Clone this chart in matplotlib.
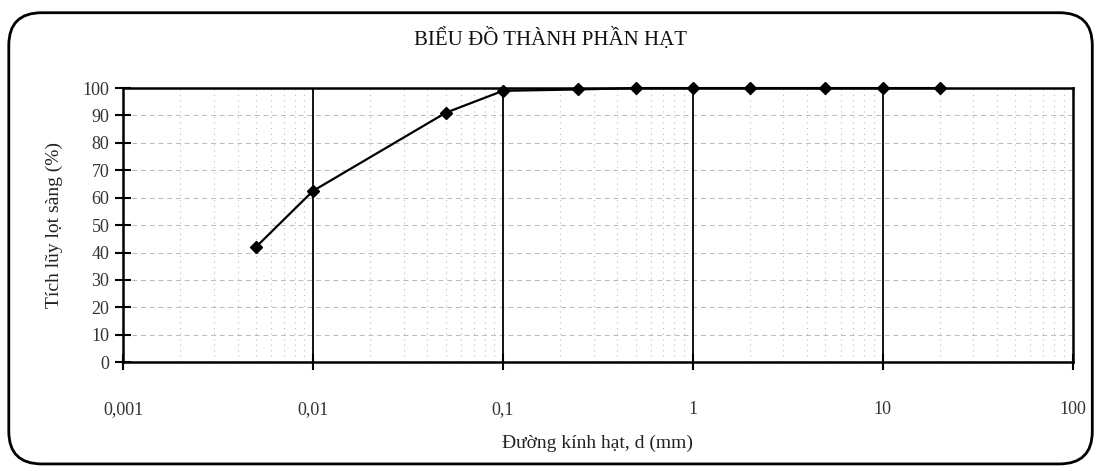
import matplotlib
matplotlib.use("Agg")
import matplotlib.pyplot as plt
from matplotlib.patches import FancyBboxPatch
from matplotlib.ticker import FixedLocator, LogLocator, NullFormatter

plt.rcParams['font.family'] = ['Liberation Serif', 'DejaVu Serif']

# Du lieu thanh phan hat
duong_kinh = [0.005, 0.01, 0.05, 0.1, 0.25, 0.5, 1, 2, 5, 10, 20]
tich_luy = [42, 62.5, 91, 99, 99.5, 100, 100, 100, 100, 100, 100]

x_ticks = [0.001, 0.01, 0.1, 1, 10, 100]
x_tick_labels = ['0,001', '0,01', '0,1', '1', '10', '100']
y_ticks = list(range(0, 101, 10))

fig = plt.figure(figsize=(11, 4.71), dpi=100)
ax = fig.add_axes([0.112, 0.231, 0.863, 0.582])

# khung bo tron quanh hinh
frame = FancyBboxPatch((0.008, 0.015), 0.985, 0.958,
                       boxstyle="round,pad=0,rounding_size=0.03",
                       transform=fig.transFigure, fill=False,
                       edgecolor='black', linewidth=2, mutation_aspect=2.3)
fig.patches.append(frame)

ax.set_xscale('log')
ax.set_xlim(0.001, 100)
ax.set_ylim(0, 100)

# luoi
ax.xaxis.set_minor_locator(LogLocator(base=10, subs=range(2, 10)))
ax.xaxis.set_minor_formatter(NullFormatter())
ax.grid(which='minor', axis='x', color='#bbbbbb', linestyle=(0, (1, 4)), linewidth=0.8)
for yv in y_ticks[1:-1]:
    ax.axhline(yv, color='#b4b8c8', linestyle=(0, (5, 4)), linewidth=0.7, zorder=1)
for xv in x_ticks[1:-1]:
    ax.axvline(xv, color='black', linewidth=1.3, zorder=2)

ax.plot(duong_kinh, tich_luy, color='black', linewidth=1.6, marker='D',
        markersize=6.5, zorder=5, clip_on=False)

ax.xaxis.set_major_locator(FixedLocator(x_ticks))
ax.set_xticklabels(x_tick_labels)
ax.set_yticks(y_ticks)

for s in ax.spines.values():
    s.set_linewidth(1.8)
    s.set_color('black')

ax.tick_params(axis='both', which='major', direction='inout', length=12,
               width=1.5, labelsize=13, colors='black')
ax.tick_params(axis='x', which='major', pad=22)
ax.tick_params(axis='y', which='major', pad=4)
ax.tick_params(axis='x', which='minor', length=0)

for lab in ax.get_xticklabels() + ax.get_yticklabels():
    lab.set_color('#333333')

ax.set_xlabel('Đường kính hạt, d (mm)', fontsize=14, color='#222222', labelpad=12)
ax.set_ylabel('Tích lũy lọt sàng (%)', fontsize=14, color='#222222', labelpad=14)

fig.text(0.5, 0.918, 'BIỂU ĐỒ THÀNH PHẦN HẠT', ha='center', va='center',
         fontsize=15, color='#111111')

plt.savefig('out.png', dpi=100)
